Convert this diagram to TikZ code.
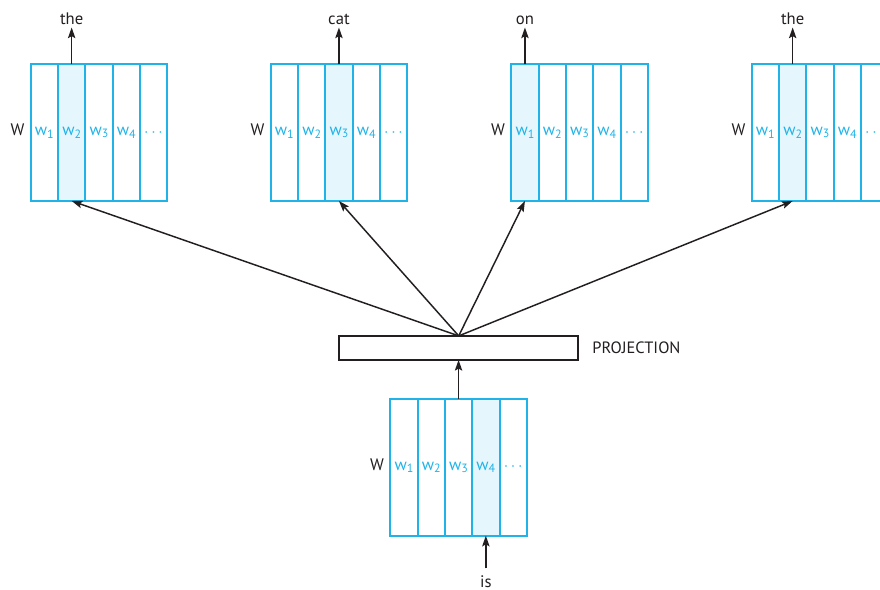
\documentclass[tikz,border=0pt]{standalone}
\usepackage{fontspec}
\setmainfont{PT Sans}
\usetikzlibrary{arrows.meta,calc}
\definecolor{wcyan}{HTML}{1FB3E8}
\definecolor{wlight}{HTML}{E6F6FD}
\definecolor{ink}{HTML}{231F20}
\newcommand\wsub[1]{w\raisebox{-0.3ex}{\fontsize{9}{9}\selectfont #1}}
\newcommand\wmatrix[4]{%
  \def\hlcol{#4}%
  \foreach \i/\lab in {1/{\wsub{1}},2/{\wsub{2}},3/{\wsub{3}},4/{\wsub{4}},5/{$\cdots$}}{
    \node[col, hlfill=\i] (#1c\i) at ({#2+13.65+27.3*(\i-1)}, {#3+68.35}) {\lab};
  }
  \node[wlab] (#1W) at ($(#1c1.west)+(-6,3)$) {W};
}
\tikzset{
  col/.style={draw=wcyan, line width=1.5pt, minimum width=20.475pt, minimum height=102.5pt,
    inner sep=0pt, outer sep=0pt, text=wcyan, font=\fontsize{12.5}{13}\selectfont},
  hlfill/.code={\ifnum#1=\hlcol\relax\pgfkeysalso{fill=wlight}\fi},
  wlab/.style={anchor=base east, inner sep=0pt, text=ink, font=\fontsize{12.5}{13}\selectfont},
  word/.style={anchor=base, inner sep=2.25pt, text=ink, font=\fontsize{12.5}{13}\selectfont},
  arr/.style={draw=ink, line width=1.1pt, -{Stealth[length=8pt,width=5.5pt,inset=1.5pt]}},
  proj/.style={draw=ink, line width=1.1pt, minimum width=179.25pt, minimum height=18pt,
    inner sep=0pt, outer sep=0pt},
  plab/.style={anchor=west, inner sep=0pt, text=ink, font=\fontsize{12.3}{13}\selectfont},
}
\begin{document}
\begin{tikzpicture}[x=0.75pt,y=-0.75pt]
  \useasboundingbox (0,0) rectangle (880,589);
  \clip (0,0) rectangle (880,589);
  \coordinate (topline) at (0,24);
  \coordinate (botline) at (0,587);
  % output matrices
  \wmatrix{a}{30.7}{64.3}{2}
  \wmatrix{b}{270.7}{64.3}{3}
  \wmatrix{c}{511.3}{64.3}{1}
  \wmatrix{d}{751.7}{64.3}{2}
  % input matrix
  \wmatrix{e}{390.3}{399}{4}
  % projection
  \node[proj] (proj) at (458.7,347.9) {};
  \node[plab] (projlab) at ($(proj.east)+(14,0)$) {PROJECTION};
  % words
  \node[word] (wa) at (ac2.north |- topline) {the};
  \node[word] (wb) at (bc3.north |- topline) {cat};
  \node[word] (wc) at (cc1.north |- topline) {on};
  \node[word] (wd) at (dc2.north |- topline) {the};
  \node[word, inner sep=0pt] (we) at (ec4.south |- botline) {is};
  % connectors
  \draw[arr] (ac2.north) -- (wa.south);
  \draw[arr] (bc3.north) -- (wb.south);
  \draw[arr] (cc1.north) -- (wc.south);
  \draw[arr] (dc2.north) -- (wd.south);
  \draw[arr] (proj.north) -- (ac2.south);
  \draw[arr] (proj.north) -- (bc3.south);
  \draw[arr] (proj.north) -- (cc1.south);
  \draw[arr] (proj.north) -- (dc2.south);
  \draw[arr] (ec3.north) -- (ec3.north |- proj.south);
  \draw[arr, shorten <=5pt] (we.north) -- (ec4.south);
\end{tikzpicture}
\end{document}
